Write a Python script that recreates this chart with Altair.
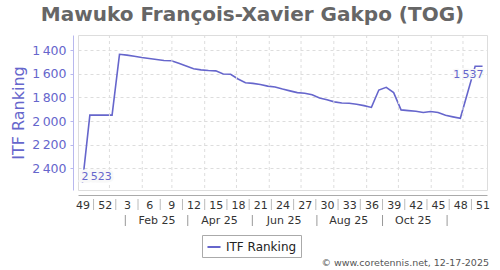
import altair as alt
import pandas as pd

# ---- data ----
weeks = [49, 50, 51, 52] + list(range(1, 52))
ranking = [2523, 1950, 1950, 1950, 1950, 1436, 1443, 1452, 1463, 1472,
           1480, 1488, 1490, 1512, 1535, 1558, 1568, 1573, 1576, 1603,
           1605, 1645, 1676, 1682, 1692, 1705, 1712, 1730, 1745, 1760,
           1765, 1778, 1805, 1820, 1838, 1848, 1850, 1858, 1870, 1885,
           1738, 1715, 1760, 1906, 1912, 1917, 1928, 1920, 1928, 1952,
           1965, 1977, 1757, 1537, 1537]
series_name = "ITF Ranking"
title_text = "Mawuko François-Xavier Gakpo (TOG)"
copyright_text = "© www.coretennis.net, 12-17-2025"
y_ticks = [1400, 1600, 1800, 2000, 2200, 2400]
month_starts = ["2025-%02d-01" % m for m in range(1, 13)]
month_label_dates = ["2025-02-15", "2025-04-15", "2025-06-15", "2025-08-15", "2025-10-15"]
month_labels = ["Feb 25", "Apr 25", "Jun 25", "Aug 25", "Oct 25"]
month_sep_dates = ["2025-01-16", "2025-03-16", "2025-05-16", "2025-07-16", "2025-09-16", "2025-11-16"]

COLOR = "#6666cc"
REF = pd.Timestamp("2024-12-02")


def to_idx(d):
    return ((pd.Timestamp(d) - REF).days - 4.5) / 7.0


df = pd.DataFrame({"idx": list(range(len(weeks))), "week": weeks,
                   "rank": ranking, "series": series_name})
df["lab"] = df["rank"].map(lambda v: f"{v:,}".replace(",", "\u2009"))

grid_df = pd.DataFrame({"idx": [to_idx(d) for d in month_starts]})
mlab_df = pd.DataFrame({"idx": [to_idx(d) for d in month_label_dates], "lab": month_labels})
msep_df = pd.DataFrame({"idx": [to_idx(d) for d in month_sep_dates]})
wsep_df = pd.DataFrame({"idx": [i + 1.5 for i in range(0, len(weeks) - 3, 3)]})

xscale = alt.Scale(domain=[-0.6, 54.6], nice=False, zero=False)
yscale = alt.Scale(domain=[1273, 2583], reverse=True, nice=False, zero=False)

x_axis = alt.Axis(values=list(range(0, 55, 3)), title=None, grid=False, ticks=False,
                  labelExpr="datum.value < 4 ? '' + (datum.value + 49) : '' + (datum.value - 3)",
                  offset=5, domainColor="#aaaaaa", labelColor="#333333", labelFontSize=11,
                  labelPadding=4, labelFont="DejaVu Sans", labelOverlap=False,
                  labelFlush=False)
y_axis = alt.Axis(values=y_ticks, title=series_name, grid=True, gridDash=[3, 3],
                  gridColor="#dddddd", offset=5, domainColor="#b8b8ee",
                  tickColor="#b8b8ee", tickSize=3, labelOverlap=False, labelFlush=False,
                  labelExpr="replace(format(datum.value, ','), ',', '\u2009')",
                  labelColor=COLOR, labelFontSize=12.5, labelPadding=4,
                  labelFont="DejaVu Sans",
                  titleColor=COLOR, titleFontSize=16, titleFontWeight="normal",
                  titleFont="DejaVu Sans", titlePadding=5)

X = lambda: alt.X("idx:Q", scale=xscale, axis=x_axis)
Y = lambda: alt.Y("rank:Q", scale=yscale, axis=y_axis)

line = alt.Chart(df).mark_line(strokeWidth=1.6, interpolate="linear").encode(
    x=X(), y=Y(),
    color=alt.Color("series:N", scale=alt.Scale(range=[COLOR]),
                    legend=alt.Legend(title=None, orient="none", legendX=124, legendY=200,
                                      strokeColor="#aaaaaa", padding=4,
                                      symbolType="stroke", symbolSize=170,
                                      symbolStrokeWidth=2, labelFontSize=12,
                                      labelColor="#222222", labelFont="DejaVu Sans")))

grid = alt.Chart(grid_df).mark_rule(color="#dddddd", strokeDash=[3, 3], strokeWidth=1).encode(
    x=X())

first = df[df["idx"] == 0]
last = df[df["idx"] == len(weeks) - 1]

halo_first = alt.Chart(first).mark_text(align="left", baseline="middle", dx=-1, dy=-6,
                                        fontSize=11, font="DejaVu Sans", stroke="#f8f8f8",
                                        strokeWidth=5, color="#f8f8f8").encode(
    x=X(), y=Y(), text="lab:N")
txt_first = alt.Chart(first).mark_text(align="left", baseline="middle", dx=-1, dy=-6,
                                       fontSize=11, font="DejaVu Sans", color=COLOR).encode(
    x=X(), y=Y(), text="lab:N")
halo_last = alt.Chart(last).mark_text(align="right", baseline="middle", dx=1, dy=9,
                                      fontSize=11, font="DejaVu Sans", stroke="#f8f8f8",
                                      strokeWidth=2.5, color="#f8f8f8").encode(
    x=X(), y=Y(), text="lab:N")
txt_last = alt.Chart(last).mark_text(align="right", baseline="middle", dx=1, dy=9,
                                     fontSize=11, font="DejaVu Sans", color=COLOR).encode(
    x=X(), y=Y(), text="lab:N")

wsep = alt.Chart(wsep_df).mark_rule(color="#bbbbbb", strokeWidth=1).encode(
    x=X(), y=alt.value(164), y2=alt.value(175))
msep = alt.Chart(msep_df).mark_rule(color="#999999", strokeWidth=1).encode(
    x=X(), y=alt.value(180), y2=alt.value(191))
mlab = alt.Chart(mlab_df).mark_text(fontSize=11, font="DejaVu Sans", color="#333333",
                                    baseline="middle").encode(
    x=X(), y=alt.value(186), text="lab:N")

copy_df = pd.DataFrame({"t": [copyright_text]})
copy = alt.Chart(copy_df).mark_text(align="right", baseline="middle", fontSize=9.5,
                                    font="DejaVu Sans", color="#555555").encode(
    x=alt.value(411), y=alt.value(228), text="t:N")

chart = alt.layer(line, grid, halo_first, txt_first, halo_last, txt_last,
                  wsep, msep, mlab, copy).properties(
    width=409, height=155,
    autosize=alt.AutoSizeParams(type="none"),
    padding={"left": 78, "top": 35, "right": 13, "bottom": 80},
    title=alt.Title(title_text, fontSize=20, font="DejaVu Sans", fontWeight="bold",
                    color="#666666", anchor="middle", dx=-30, offset=10),
).configure_view(fill="#f8f8f8", stroke="#888888", strokeWidth=1
).configure_axis(labelOverlap=False).configure(background="white")

chart.save("out.html", embed_options={"renderer": "svg", "actions": False})
